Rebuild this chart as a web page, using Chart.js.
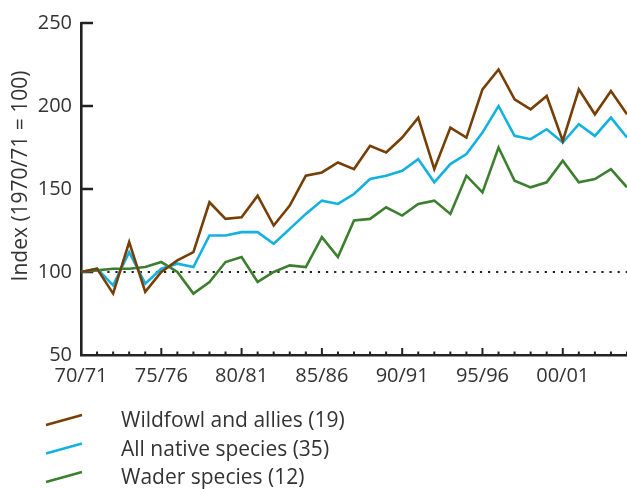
<!DOCTYPE html>
<html><head><meta charset="utf-8">
<script src="https://cdn.jsdelivr.net/npm/chart.js@4"></script>
<style>html,body{margin:0;padding:0;background:#fff}#wrap{width:627px;height:489px;position:relative}</style>
</head><body><div id="wrap"><canvas id="c" width="627" height="489"></canvas></div>
<script>
const years = ['70/71','71/72','72/73','73/74','74/75','75/76','76/77','77/78','78/79','79/80',
  '80/81','81/82','82/83','83/84','84/85','85/86','86/87','87/88','88/89','89/90',
  '90/91','91/92','92/93','93/94','94/95','95/96','96/97','97/98','98/99','99/00',
  '00/01','01/02','02/03','03/04','04/05'];
const tickLabels = ['70/71','75/76','80/81','85/86','90/91','95/96','00/01'];
const wildfowl = [100,102,87,118,88,100,107,112,142,132,133,146,128,140,158,160,166,162,176,172,181,193,162,187,181,210,222,204,198,206,179,210,195,209,195];
const allNative = [100,102,92,112,93,102,105,103,122,122,124,124,117,126,135,143,141,147,156,158,161,168,154,165,171,184,200,182,180,186,178,189,182,193,181];
const wader = [100,101,102,102,103,106,100,87,94,106,109,94,100,104,103,121,109,131,132,139,134,141,143,135,158,148,175,155,151,154,167,154,156,162,151];
const seriesNames = ['Wildfowl and allies (19)','All native species (35)','Wader species (12)'];
const seriesColors = ['#763f05','#14b1e0','#3b7f2f'];
const yTicks = [50,100,150,200,250];
const baseline = 100;
const yTitle = 'Index (1970/71 = 100)';

const FONT = "'Open Sans', sans-serif";
const TXT = '#333333';
const AX = '#222222';

const extras = {
  id: 'extras',
  beforeDatasetsDraw(chart) {
    const {ctx, chartArea: a, scales: {x, y}} = chart;
    ctx.save();
    const yb = y.getPixelForValue(baseline);
    ctx.strokeStyle = AX; ctx.lineWidth = 2.2; ctx.setLineDash([2.2, 5.9]);
    ctx.beginPath(); ctx.moveTo(a.left + 2, yb); ctx.lineTo(a.right, yb); ctx.stroke();
    ctx.setLineDash([]);
    ctx.lineWidth = 2.5;
    yTicks.forEach(v => {
      if (v === y.min) return;
      const p = y.getPixelForValue(v);
      ctx.beginPath(); ctx.moveTo(a.left, p); ctx.lineTo(a.left + 12, p); ctx.stroke();
    });
    ctx.lineWidth = 2;
    years.forEach((lab, i) => {
      const p = x.getPixelForValue(i);
      const len = tickLabels.includes(lab) ? 7 : 3.5;
      ctx.beginPath(); ctx.moveTo(p, a.bottom); ctx.lineTo(p, a.bottom - len); ctx.stroke();
    });
    ctx.restore();
  },
  afterDraw(chart) {
    const {ctx} = chart;
    ctx.save();
    ctx.fillStyle = TXT;
    ctx.font = "21px " + FONT;
    ctx.textAlign = 'center'; ctx.textBaseline = 'middle';
    ctx.translate(21, 176); ctx.rotate(-Math.PI / 2);
    ctx.fillText(yTitle, 0, 0);
    ctx.restore();
    ctx.save();
    const rows = [427, 455.5, 484];
    chart.data.datasets.forEach((ds, i) => {
      const yy = rows[i];
      ctx.strokeStyle = ds.borderColor; ctx.lineWidth = 2.5;
      ctx.beginPath(); ctx.moveTo(46, yy - 2); ctx.lineTo(82, yy - 12); ctx.stroke();
      ctx.fillStyle = TXT; ctx.font = "21px " + FONT;
      ctx.textAlign = 'left'; ctx.textBaseline = 'alphabetic';
      ctx.fillText(ds.label, 121, yy);
    });
    ctx.restore();
  }
};

new Chart(document.getElementById('c'), {
  type: 'line',
  data: {
    labels: years,
    datasets: [
      {label: seriesNames[0], data: wildfowl, borderColor: seriesColors[0]},
      {label: seriesNames[1], data: allNative, borderColor: seriesColors[1]},
      {label: seriesNames[2], data: wader, borderColor: seriesColors[2]}
    ].map(d => Object.assign(d, {borderWidth: 2.6, pointRadius: 0, fill: false, tension: 0}))
  },
  options: {
    responsive: false, animation: false,
    layout: {padding: {top: 23, right: 0, left: 0, bottom: 0}},
    plugins: {legend: {display: false}, tooltip: {enabled: false}},
    scales: {
      x: {
        type: 'category', offset: false,
        grid: {display: true, drawOnChartArea: false, drawTicks: false},
        border: {display: true, color: AX, width: 2.6},
        ticks: {
          autoSkip: false, maxRotation: 0, padding: 9, color: TXT,
          font: {family: FONT, size: 20},
          callback: (v, i) => tickLabels.includes(years[i]) ? years[i] : ''
        },
        afterFit: s => { s.height = 134; s.paddingRight = 0; s.paddingLeft = 0; }
      },
      y: {
        min: 50, max: 250,
        afterBuildTicks: s => { s.ticks = yTicks.map(v => ({value: v})); },
        grid: {display: true, drawOnChartArea: false, drawTicks: false},
        border: {display: true, color: AX, width: 2.6},
        ticks: {padding: 9, color: TXT, font: {family: FONT, size: 20}},
        afterFit: s => { s.width = 81; }
      }
    }
  },
  plugins: [extras]
});
</script></body></html>
